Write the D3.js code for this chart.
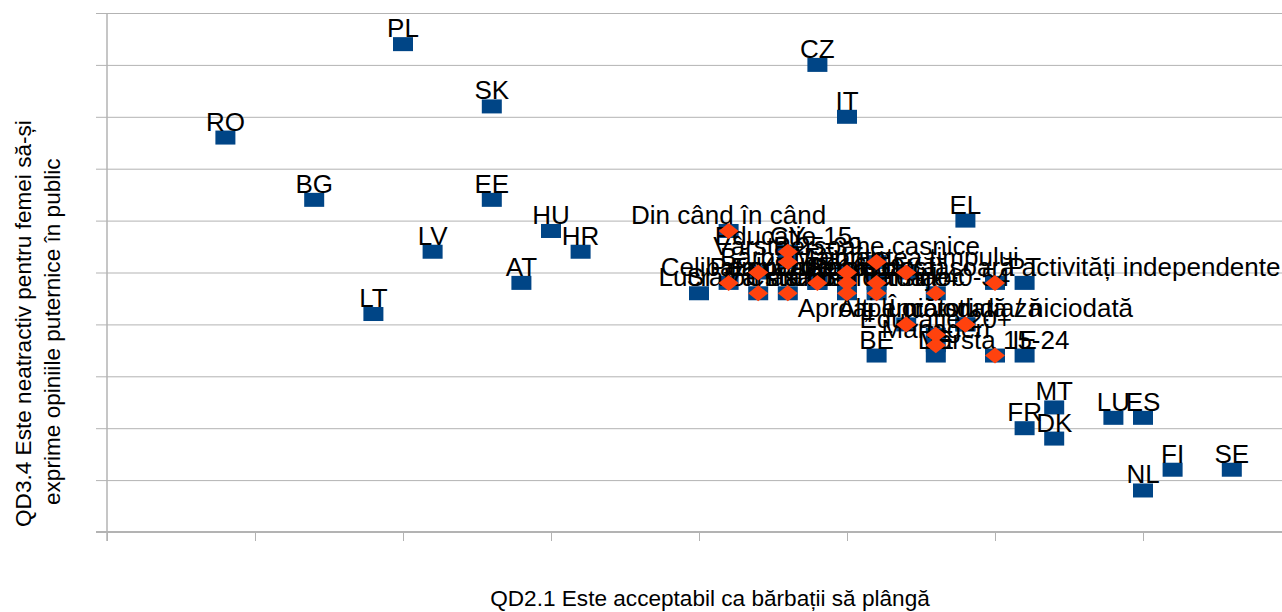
<!DOCTYPE html>
<html><head><meta charset="utf-8">
<script src="https://cdn.jsdelivr.net/npm/d3@7/dist/d3.min.js"></script>
<style>body{margin:0;background:#fff}svg{display:block}text{font-family:"Liberation Sans",Arial,sans-serif}</style>
</head><body><svg id="c" width="1282" height="612"></svg>
<script>
// Countries (series 1)
const countryCodes = ["RO","PL","BG","LT","LV","SK","EE","AT","HU","HR","SI","CZ","IT","EL","PT","BE","DE","IE","FR","MT","DK","LU","ES","NL","FI","SE","CY","UK"];
const countryX     = [59,  65,  62,  64,  66,  68,  68,  69,  70,  71,  75,  79,  80,  84,  86,  81,  83,  86,  86,  87,  87,  89,  90,  90,  91,  93,  78,  79];
const countryY     = [38,  47,  32,  21,  27,  41,  32,  24,  29,  27,  23,  45,  40,  30,  24,  17,  17,  17,  10,  12,  9,   11,  11,  4,   6,   6,   27,  24];
// Socio-demographic groups (series 2)
const groupLabels = ["Din când în când","Educație 15-","Vârsta 25-39","Persoane casnice","Bărbat","Majoritatea timpului","Femeie","Celibatar(ă)","Persoane care desfășoară activități independente","Educație 16-19","Șomeri","Căsătorit(ă)","Lucrători manuali","Vârsta 55+","Vârsta 40-54","Clasa muncitoare","Clasa de mijloc","Aproape niciodată / niciodată","Alți lucrători","Încă studiază","Educație 20+","Manageri","Vârsta 15-24"];
const groupX      = [76, 78, 78, 81, 77, 82, 80, 76, 85, 79, 80, 81, 77, 78, 83, 80, 81, 84, 82, 84, 83, 83, 85];
const groupY      = [29, 27, 26, 26, 25, 25, 25, 24, 24, 24, 24, 24, 23, 23, 23, 23, 23, 20, 20, 20, 19, 18, 17];
const xTicks = [55,60,65,70,75,80,85,90];
const yTicks = [0,5,10,15,20,25,30,35,40,45,50];

const svg = d3.select("#c");
const x = d3.scaleLinear().domain([55,95]).range([107,1291]);
const y = d3.scaleLinear().domain([0,50]).range([532,13]);
const grid = "#b3b3b3";

svg.append("g").attr("transform","translate(107,0)")
  .call(d3.axisLeft(y).tickValues(yTicks).tickSize(-1200).tickSizeOuter(0).tickFormat(""))
  .call(g=>g.select(".domain").remove())
  .call(g=>g.selectAll(".tick line").attr("stroke",grid).attr("x1",-11));
svg.append("g").attr("transform","translate(0,532)")
  .call(d3.axisBottom(x).tickValues(xTicks).tickSize(9).tickSizeOuter(0).tickFormat(""))
  .call(g=>g.select(".domain").remove())
  .call(g=>g.selectAll(".tick line").attr("stroke",grid));
svg.append("line").attr("x1",96).attr("x2",1282).attr("y1",y(0)).attr("y2",y(0)).attr("stroke",grid).attr("stroke-width",2);
svg.append("line").attr("x1",x(55)).attr("x2",x(55)).attr("y1",13).attr("y2",541).attr("stroke",grid).attr("stroke-width",1.5);

const countries = countryCodes.map((c,i)=>({c, x:countryX[i], y:countryY[i]}));
const groups = groupLabels.map((c,i)=>({c, x:groupX[i], y:groupY[i]}));
const all = countries.concat(groups);

// series 1: every row as a blue square with its label
svg.append("g").selectAll("rect").data(all).join("rect")
  .attr("x",d=>x(d.x)-10).attr("y",d=>y(d.y)-7).attr("width",20).attr("height",14).attr("fill","#004586");
svg.append("g").selectAll("text").data(all).join("text")
  .attr("x",d=>x(d.x)).attr("y",d=>y(d.y)-7).attr("text-anchor","middle").attr("font-size",26).attr("fill","#000").text(d=>d.c);
// series 2: socio-demographic groups as orange diamonds
svg.append("g").selectAll("path").data(groups).join("path")
  .attr("d",d=>{const cx=x(d.x), cy=y(d.y); return `M${cx-10},${cy}L${cx},${cy-8}L${cx+10},${cy}L${cx},${cy+8}Z`;})
  .attr("fill","#ff420e");

svg.append("text").attr("x",710).attr("y",606).attr("text-anchor","middle").attr("font-size",22.6).attr("fill","#000")
  .text("QD2.1 Este acceptabil ca bărbații să plângă");
const yt = svg.append("text").attr("transform","translate(0,527) rotate(-90)").attr("font-size",22.6).attr("fill","#000");
yt.append("tspan").attr("x",0).attr("y",31).text("QD3.4 Este neatractiv pentru femei să-și");
yt.append("tspan").attr("x",22).attr("y",60).text("exprime opiniile puternice în public");
</script></body></html>
